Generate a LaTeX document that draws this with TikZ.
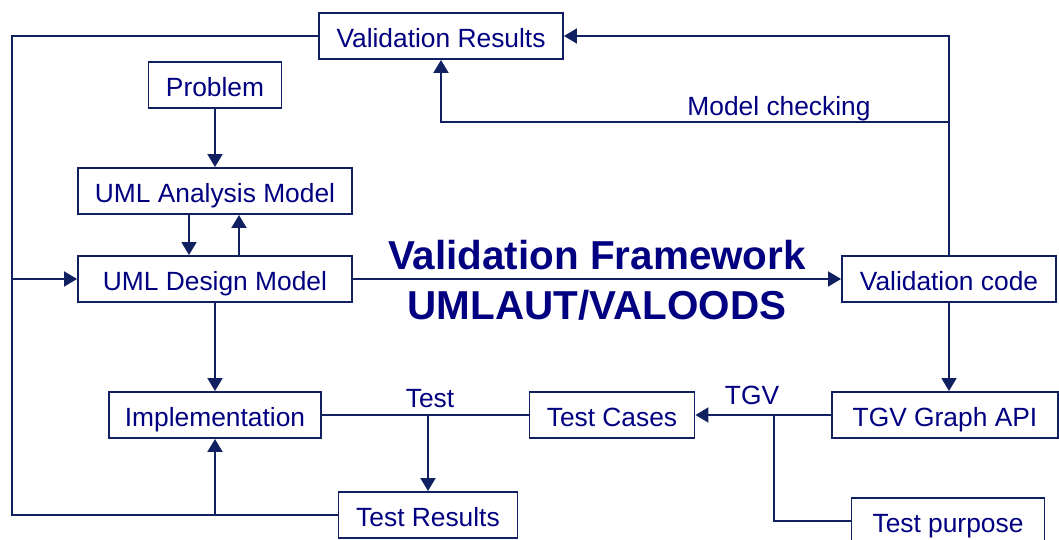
\documentclass[tikz,border=0pt]{standalone}
\usepackage{fontspec}
\setmainfont{Liberation Sans}
\usetikzlibrary{arrows.meta}
\definecolor{linenavy}{RGB}{16,32,96}
\definecolor{textnavy}{RGB}{0,0,128}

\begin{document}
\begin{tikzpicture}
		[x=0.02cm,y=-0.02cm,
		box/.style={draw=linenavy,line width=1.1pt,text=textnavy,minimum height=0.92cm,inner sep=0pt,text height=13.4pt,text depth=0pt,font=\fontsize{15}{18}\selectfont},
		lbl/.style={text=textnavy,inner sep=0pt,font=\fontsize{15}{18}\selectfont},
		title/.style={text=textnavy,inner sep=0pt,font=\fontsize{23}{27}\selectfont\bfseries},
		wire/.style={draw=linenavy,line width=1.1pt},
		edge/.style={wire,-{Triangle[length=0.26cm,width=0.3cm]}}]
		\useasboundingbox (0,0) rectangle (1059,540);
		\node[box,minimum width=4.88cm] (valres) at (441,36) {Validation Results};
		\node[box,minimum width=2.66cm] (problem) at (215,85) {Problem};
		\node[box,minimum width=5.48cm] (analysis) at (215,191) {UML Analysis Model};
		\node[box,minimum width=5.48cm] (design) at (215,279) {UML Design Model};
		\node[box,minimum width=4.28cm] (valcode) at (949,279) {Validation code};
		\node[box,minimum width=4.24cm] (impl) at (215,415) {Implementation};
		\node[box,minimum width=3.3cm] (cases) at (612,415) {Test Cases};
		\node[box,minimum width=4.52cm] (tgv) at (945,415) {TGV Graph API};
		\node[box,minimum width=3.58cm] (results) at (428,515) {Test Results};
		\node[box,minimum width=3.86cm] (purpose) at (948,521) {Test purpose};
		
		\coordinate (lt) at (12,36);
		\coordinate (lb) at (12,515);
		\coordinate (mc) at (948,122);
		\coordinate (testj) at (428,415);
		\coordinate (tgvj) at (774,415);
		
		\node[lbl,above=0.5pt] (mclbl) at (779,122) {Model checking};
		\node[lbl,above=4pt] (testlbl) at (430,415) {Test};
		\node[lbl,above=5.5pt] (tgvlbl) at (752,415) {TGV};
		
		\draw[edge] (problem) -- (analysis);
		\draw[edge] ([xshift=-0.52cm]analysis.south) -- ([xshift=-0.52cm]design.north);
		\draw[edge] ([xshift=0.48cm]design.north) -- ([xshift=0.48cm]analysis.south);
		\draw[edge] (design) -- node[title,above=4.5pt] (fwtitle) {Validation Framework}
			node[title,below=6pt] (fwname) {UMLAUT/VALOODS} (valcode);
		\draw[edge] (valcode.north) |- (valres.east);
		\draw[edge] (mc) -| (valres.south);
		\draw[edge] (valcode.south) -- (valcode.south |- tgv.north);
		\draw[edge] (design) -- (impl);
		\draw[wire] (impl) -- (cases);
		\draw[edge] (testj) -- (results);
		\draw[edge] (tgv) -- (cases);
		\draw[wire] (tgvj) |- (purpose);
		\draw[wire] (valres.west) -- (lt) -- (lb) -- (results.west);
		\draw[edge] (lt |- design) -- (design);
		\draw[edge] (impl |- lb) -- (impl);
		\end{tikzpicture}
\end{document}
